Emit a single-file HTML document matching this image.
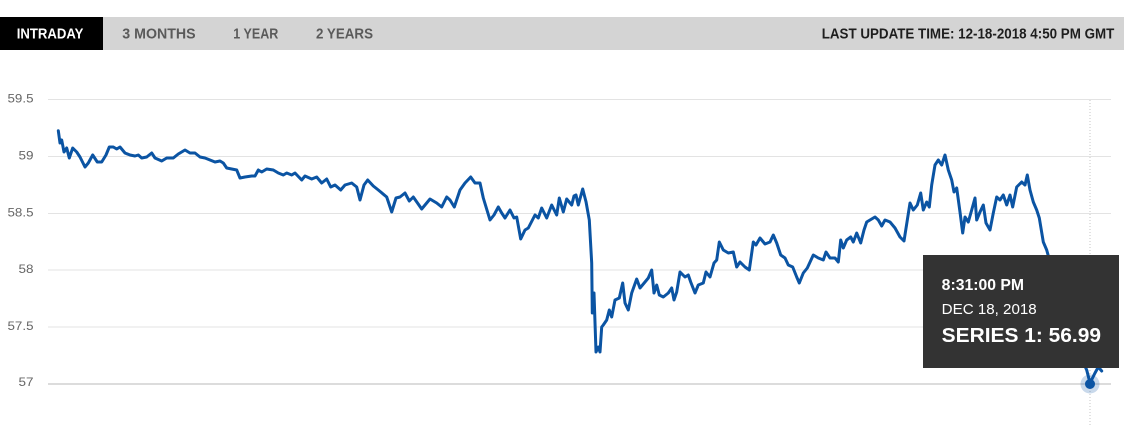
<!DOCTYPE html>
<html>
<head>
<meta charset="utf-8">
<style>
  html, body { margin: 0; padding: 0; background: #ffffff; }
  body { width: 1124px; height: 425px; overflow: hidden; }
  svg { display: block; font-family: "Liberation Sans", Arial, sans-serif; }
</style>
</head>
<body>
<svg width="1124" height="425" viewBox="0 0 1124 425" xmlns="http://www.w3.org/2000/svg">
  <!-- tab bar -->
  <rect x="0" y="17" width="1124" height="33" fill="#d4d4d4"/>
  <rect x="0" y="17" width="103" height="33" fill="#000000"/>
  <text x="16.7" y="38.5" font-size="14.5" font-weight="bold" fill="#ffffff" textLength="66.7" lengthAdjust="spacingAndGlyphs">INTRADAY</text>
  <text x="122.3" y="38.5" font-size="14.5" font-weight="bold" fill="#5a5a5a" textLength="73.3" lengthAdjust="spacingAndGlyphs">3 MONTHS</text>
  <text x="233.3" y="38.5" font-size="14.5" font-weight="bold" fill="#5a5a5a" textLength="45" lengthAdjust="spacingAndGlyphs">1 YEAR</text>
  <text x="316" y="38.5" font-size="14.5" font-weight="bold" fill="#5a5a5a" textLength="57" lengthAdjust="spacingAndGlyphs">2 YEARS</text>
  <text x="821.7" y="38.5" font-size="14.5" font-weight="bold" fill="#1e1e1e" textLength="292.6" lengthAdjust="spacingAndGlyphs">LAST UPDATE TIME: 12-18-2018 4:50 PM GMT</text>

  <!-- grid -->
  <g stroke="#e3e3e3" stroke-width="1">
    <line x1="48" y1="99.5" x2="1111" y2="99.5"/>
    <line x1="48" y1="156.5" x2="1111" y2="156.5"/>
    <line x1="48" y1="213.5" x2="1111" y2="213.5"/>
    <line x1="48" y1="270" x2="1111" y2="270"/>
    <line x1="48" y1="327" x2="1111" y2="327"/>
  </g>
  <line x1="48" y1="384" x2="1111" y2="384" stroke="#c8c8c8" stroke-width="1.3"/>

  <!-- y labels -->
  <g font-size="12" fill="#666666" text-anchor="end">
    <text x="33.5" y="102.5" textLength="26" lengthAdjust="spacingAndGlyphs">59.5</text>
    <text x="33.5" y="159.5" textLength="15" lengthAdjust="spacingAndGlyphs">59</text>
    <text x="33.5" y="216.5" textLength="26" lengthAdjust="spacingAndGlyphs">58.5</text>
    <text x="33.5" y="273" textLength="15" lengthAdjust="spacingAndGlyphs">58</text>
    <text x="33.5" y="330" textLength="26" lengthAdjust="spacingAndGlyphs">57.5</text>
    <text x="33.5" y="386" textLength="15" lengthAdjust="spacingAndGlyphs">57</text>
  </g>

  <!-- crosshair -->
  <line x1="1090" y1="100" x2="1090" y2="425" stroke="#c4c4c4" stroke-width="1" stroke-dasharray="1,2"/>

  <!-- series -->
  <polyline fill="none" stroke="#0b54a3" stroke-width="3" stroke-linejoin="round" stroke-linecap="round"
    points="58.3,130.7 60,143 61.7,140 64,152 66.7,148 69.3,158 72.7,148 76.7,152 80,157 85,167 88.3,163 92.7,155 97.3,162 101.7,162 106,155 109.3,147 113.3,147 116.7,149 120,147 125,153 130,155 135,156 138.3,155 141.7,158 146.7,157 151.7,153 155,158 161.7,161 166.7,158 173.3,158 178.3,154 185,150 190,153 195,153 200,157 205,158 210,160 215,162 220,161 223.3,163 226.7,168 231.7,169 236.7,170 240,178 245,177 251.7,176 255,176 258.3,170 261.7,172 266.7,169 273.3,170 278.3,173 283.3,175 286.7,173 291.7,175 295,173 301.7,180 305,176 311.7,179 316.7,177 321.7,183 326.7,179 330.7,187 335,185 340.7,190 345,185 351.7,183 356.7,187 360,200 364,185 367.7,180 373.3,186 378.3,190 386.7,197 391.7,212 396,198 400,197 405,193 409.3,201 413.3,197 421.7,209 430,199 436.7,203 441.7,207 446.7,197 450,200 454.3,207 460,190 465,183 470.7,177 475,183 480,183 483.3,198 490,220 494,215 498.3,207 501.7,213 505,218 510,210 514,218 516.7,217 520.7,239 525,230 528.3,228 535,215 538.3,218 541.7,208 546.7,218 551.7,205 556.7,215 559.3,198 563.3,212 566.7,199 571.7,205 574,196 576,195 578.3,205 582.7,189 586,201.7 589.3,220 591.7,263 592.3,313 594,293 596,352 598.3,347 600,352 601.7,327 603.3,325 606.7,320 609.3,310 611.7,317 615,300 619.3,298 622.7,283 625,303 628.3,310 631.7,293 636.7,279 640,288 645,282 648.3,278 651.7,270 654,293 656.7,285 659.3,295 663.3,297 668.3,293 671.7,288 674,300 676.7,292 680,272 685,277 688.3,275 690.7,282 695,293 698.3,285 703.3,283 706,272 710,277 714,263 716.7,260 719.3,242 723.3,250 728.3,253 733.3,252 736.7,267 740,262 745,267 749.3,270 753.3,242 756,245 760,238 765,244 770,242 773.3,235 776.7,243 780.7,255 785,258 788.3,265 792.7,267 796.7,277 799.3,283 803.3,273 807.3,268 813.3,255 818.3,258 823.3,260 826,252 830,258 835,258 838.3,262 840.7,240 843.3,248 846.7,240 850.7,237 853.3,242 856.7,233 860.7,243 864,230 866.7,222 870,220 875,217 878.3,220 881.7,226 885,220 890,222 895,228 900,237 904,241 910,203 913.3,210 917.3,205 920.7,193 923.3,210 926.7,202 929.3,207 931.7,185 935,165 938.3,160 941.7,165 945,155 948.3,170 951.7,180 954,192 956.7,188 960,212 962.7,233 965,217 968.3,222 971.7,210 975,198 976.7,220 980,212 983.3,205 986,223 990,230 993.3,213 996.7,197 1000,200 1003.3,195 1006.7,205 1010,195 1012.7,207 1016.7,187 1021.7,182 1025,185 1027.3,175 1030,190 1033.3,202 1036.7,210 1039.3,218 1043.3,242 1046.7,250 1050,262 1060,290 1070,320 1080,355 1086.7,370 1090,383 1095,373 1098.3,367 1101.7,371"/>

  <!-- tooltip -->
  <rect x="923" y="255" width="196" height="113" fill="#333333"/>
  <text x="941.7" y="290" font-size="15.5" font-weight="bold" fill="#ffffff" textLength="82.3" lengthAdjust="spacingAndGlyphs">8:31:00 PM</text>
  <text x="941.7" y="314" font-size="15" fill="#ffffff" textLength="95" lengthAdjust="spacingAndGlyphs">DEC 18, 2018</text>
  <text x="941.7" y="342" font-size="20.5" font-weight="bold" fill="#ffffff" textLength="159.3" lengthAdjust="spacingAndGlyphs">SERIES 1: 56.99</text>

  <!-- hover marker -->
  <circle cx="1090" cy="384" r="9.5" fill="#0b54a3" fill-opacity="0.22"/>
  <circle cx="1090" cy="384" r="5" fill="#0b54a3"/>
</svg>
</body>
</html>
